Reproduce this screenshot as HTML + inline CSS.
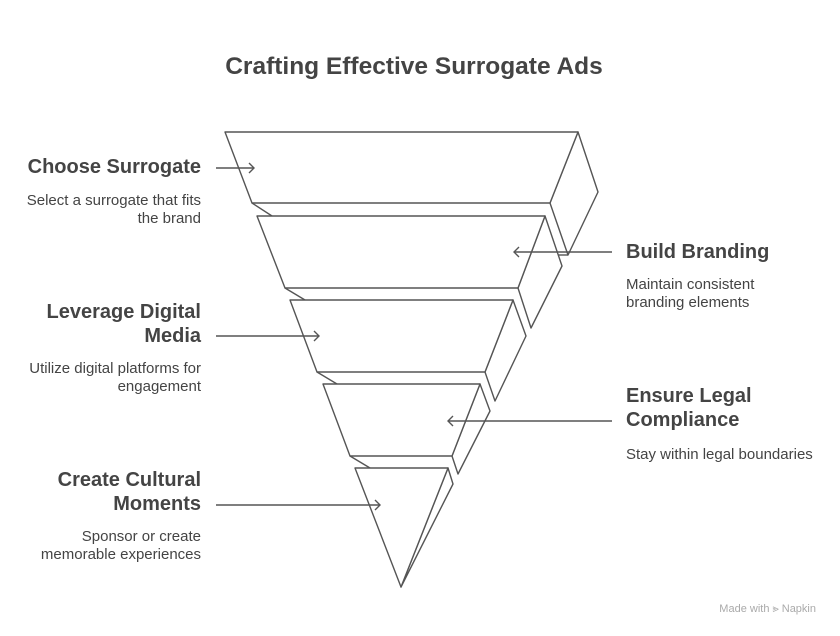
<!DOCTYPE html>
<html><head><meta charset="utf-8"><style>
html,body{margin:0;padding:0;background:#fff;}
svg{display:block;font-family:"Liberation Sans",Arial,sans-serif;}
.l{font-size:20px;font-weight:bold;fill:#444;}
.d{font-size:15px;fill:#444;}
</style></head><body>
<svg width="840" height="636" viewBox="0 0 840 636" xmlns="http://www.w3.org/2000/svg">
<text x="414" y="74" text-anchor="middle" style="font-size:24.5px;font-weight:bold;fill:#444">Crafting Effective Surrogate Ads</text>
<g fill="#fff" stroke="#555" stroke-width="1.4" stroke-linejoin="round">
<polygon points="578,132 598,192 568,255 550,203"/>
<polygon points="225,132 578,132 550,203 252,203"/>
<polyline fill="none" points="252,203 272,216"/>
<polyline fill="none" points="558,255 568,255"/>
<polygon points="545,216 562,266 531,328 518,288"/>
<polygon points="257,216 545,216 518,288 285,288"/>
<polyline fill="none" points="285,288 305,300"/>
<polygon points="513,300 526,336 495,401 485,372"/>
<polygon points="290,300 513,300 485,372 317,372"/>
<polyline fill="none" points="317,372 337,384"/>
<polygon points="480,384 490,411 458,474 452,456"/>
<polygon points="323,384 480,384 452,456 350,456"/>
<polyline fill="none" points="350,456 370,468"/>
<polygon points="448,468 453,484 401,587"/>
<polygon points="355,468 448,468 401,587"/>
</g>
<g stroke="#555" stroke-width="1.4" fill="none">
<line x1="216" y1="168" x2="254" y2="168"/><polyline points="249,163 254,168 249,173"/>
<line x1="216" y1="336" x2="319" y2="336"/><polyline points="314,331 319,336 314,341"/>
<line x1="216" y1="505" x2="380" y2="505"/><polyline points="375,500 380,505 375,510"/>
<line x1="612" y1="252" x2="514" y2="252"/><polyline points="519,247 514,252 519,257"/>
<line x1="612" y1="421" x2="448" y2="421"/><polyline points="453,416 448,421 453,426"/>
</g>
<g text-anchor="end">
<text class="l" x="201" y="173">Choose Surrogate</text>
<text class="d" x="201" y="205">Select a surrogate that fits</text>
<text class="d" x="201" y="223">the brand</text>
<text class="l" x="201" y="318">Leverage Digital</text>
<text class="l" x="201" y="342">Media</text>
<text class="d" x="201" y="373">Utilize digital platforms for</text>
<text class="d" x="201" y="391">engagement</text>
<text class="l" x="201" y="486">Create Cultural</text>
<text class="l" x="201" y="510">Moments</text>
<text class="d" x="201" y="541">Sponsor or create</text>
<text class="d" x="201" y="559">memorable experiences</text>
</g>
<g>
<text class="l" x="626" y="258">Build Branding</text>
<text class="d" x="626" y="289">Maintain consistent</text>
<text class="d" x="626" y="307">branding elements</text>
<text class="l" x="626" y="402">Ensure Legal</text>
<text class="l" x="626" y="426">Compliance</text>
<text class="d" x="626" y="459">Stay within legal boundaries</text>
</g>
<text x="816" y="612" text-anchor="end" style="font-size:11px;fill:#aaa">Made with ⪢ Napkin</text>
</svg>
</body></html>
